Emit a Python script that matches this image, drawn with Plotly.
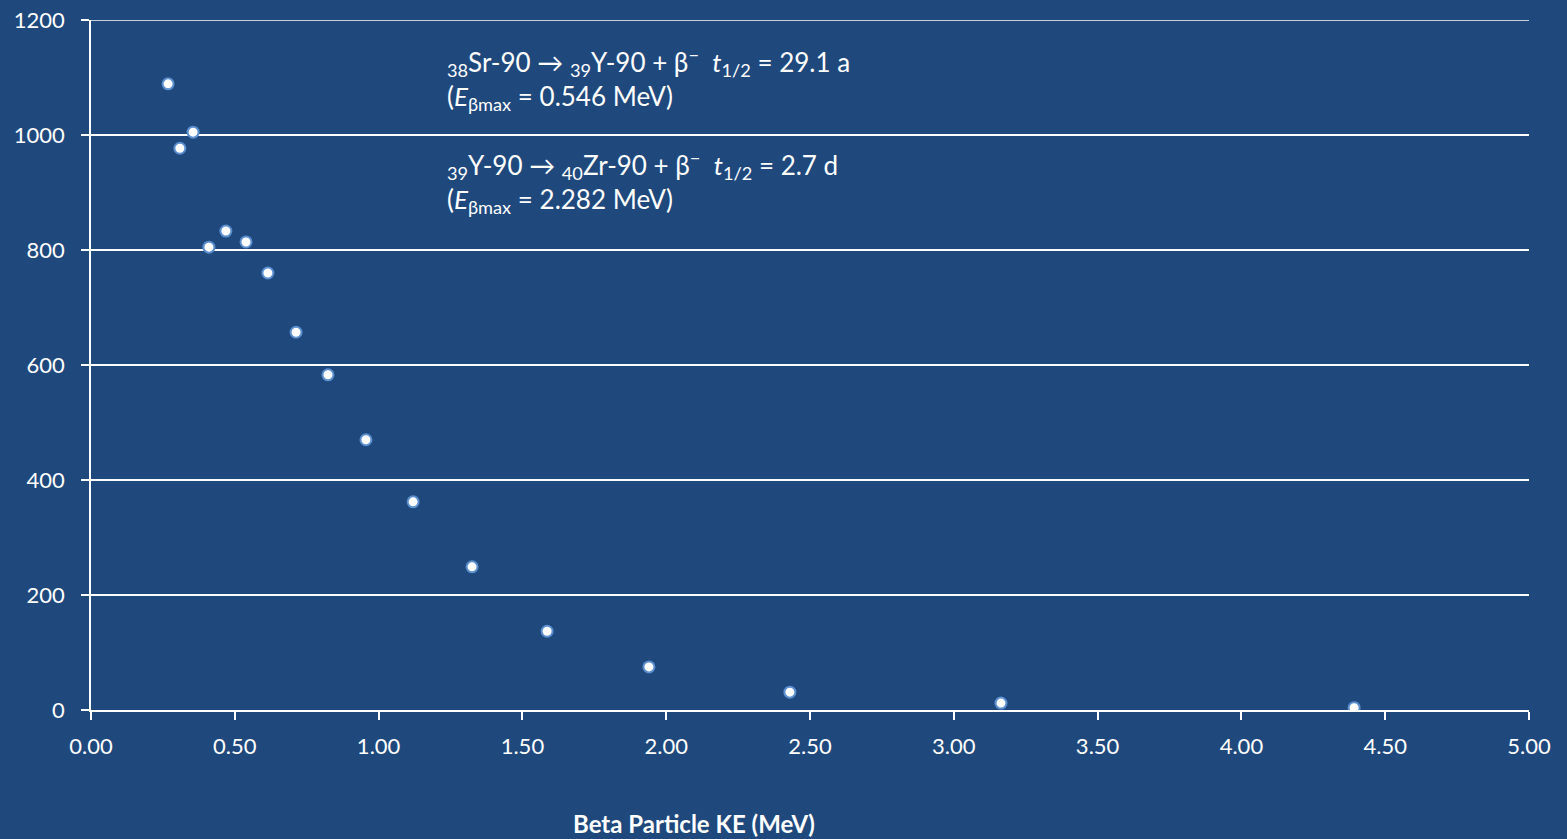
import plotly.graph_objects as go

energy_mev = [0.268, 0.309, 0.355, 0.410, 0.469, 0.539, 0.615, 0.713, 0.824, 0.956,
              1.120, 1.325, 1.586, 1.940, 2.430, 3.164, 4.392]
counts = [1089, 977, 1005, 805, 833, 814, 760, 657, 583, 470,
          362, 249, 137, 75, 31, 12, 4]

x_ticks = [0, 0.5, 1, 1.5, 2, 2.5, 3, 3.5, 4, 4.5, 5]
y_ticks = [0, 200, 400, 600, 800, 1000, 1200]

BG = "#1F497D"
FONT = "Lato, Open Sans, sans-serif"
W, H = 1567, 839
L, R, T, B = 91, 38, 20, 129
PH = H - T - B

fig = go.Figure()
fig.add_trace(go.Scatter(
    x=energy_mev, y=counts, mode="markers",
    marker=dict(size=11, color="white", line=dict(color="#5B8FD0", width=2)),
    showlegend=False, hoverinfo="x+y"))

fig.update_layout(
    width=W, height=H,
    paper_bgcolor=BG, plot_bgcolor=BG,
    margin=dict(l=L, r=R, t=T, b=B, autoexpand=False),
    font=dict(family=FONT, color="white", size=22),
    xaxis=dict(range=[0, 5], tickvals=x_ticks, ticktext=[f"{v:.2f}" for v in x_ticks],
               showgrid=False, zeroline=False, showline=True, linecolor="white", linewidth=1.5,
               ticks="outside", ticklen=8, tickcolor="white", tickwidth=1.5,
               ticklabelstandoff=8, automargin=False,
               tickfont=dict(size=22, color="white")),
    yaxis=dict(range=[0, 1200], tickvals=y_ticks,
               showgrid=True, gridcolor="white", gridwidth=1.5, zeroline=False,
               showline=True, linecolor="white", linewidth=1.5,
               ticks="outside", ticklen=8, tickcolor="white", tickwidth=1.5,
               ticklabelstandoff=12, automargin=False,
               tickfont=dict(size=22, color="white")),
)

# top gridline at the last y tick (edge of the plot area)
fig.add_shape(type="line", xref="paper", yref="y", x0=0, x1=1,
              y0=y_ticks[-1], y1=y_ticks[-1], line=dict(color="white", width=1.5))

def py(pix):
    return (H - B - pix) / PH

def px(pix):
    return (pix - L) / (W - L - R)

fig.add_annotation(
    x=px(445), y=py(41), xref="paper", yref="paper", xanchor="left", yanchor="top",
    align="left", showarrow=False, font=dict(size=26, color="white", family=FONT),
    text="<sub>38</sub>Sr-90 → <sub>39</sub>Y-90 + β<sup>−</sup>  <i>t</i><sub>1/2</sub> = 29.1 a<br>(<i>E</i><sub>βmax</sub> = 0.546 MeV)")
fig.add_annotation(
    x=px(445), y=py(144), xref="paper", yref="paper", xanchor="left", yanchor="top",
    align="left", showarrow=False, font=dict(size=26, color="white", family=FONT),
    text="<sub>39</sub>Y-90 → <sub>40</sub>Zr-90 + β<sup>−</sup>  <i>t</i><sub>1/2</sub> = 2.7 d<br>(<i>E</i><sub>βmax</sub> = 2.282 MeV)")
fig.add_annotation(
    x=px(694), y=py(839), xref="paper", yref="paper", xanchor="center", yanchor="bottom",
    borderpad=0, showarrow=False, font=dict(size=24, color="white", family=FONT),
    text="<b>Beta Particle KE (MeV)</b>")

fig.write_html("out.html", config={"displayModeBar": False},
               post_script="document.body.style.margin='0';document.body.style.overflow='hidden';")
